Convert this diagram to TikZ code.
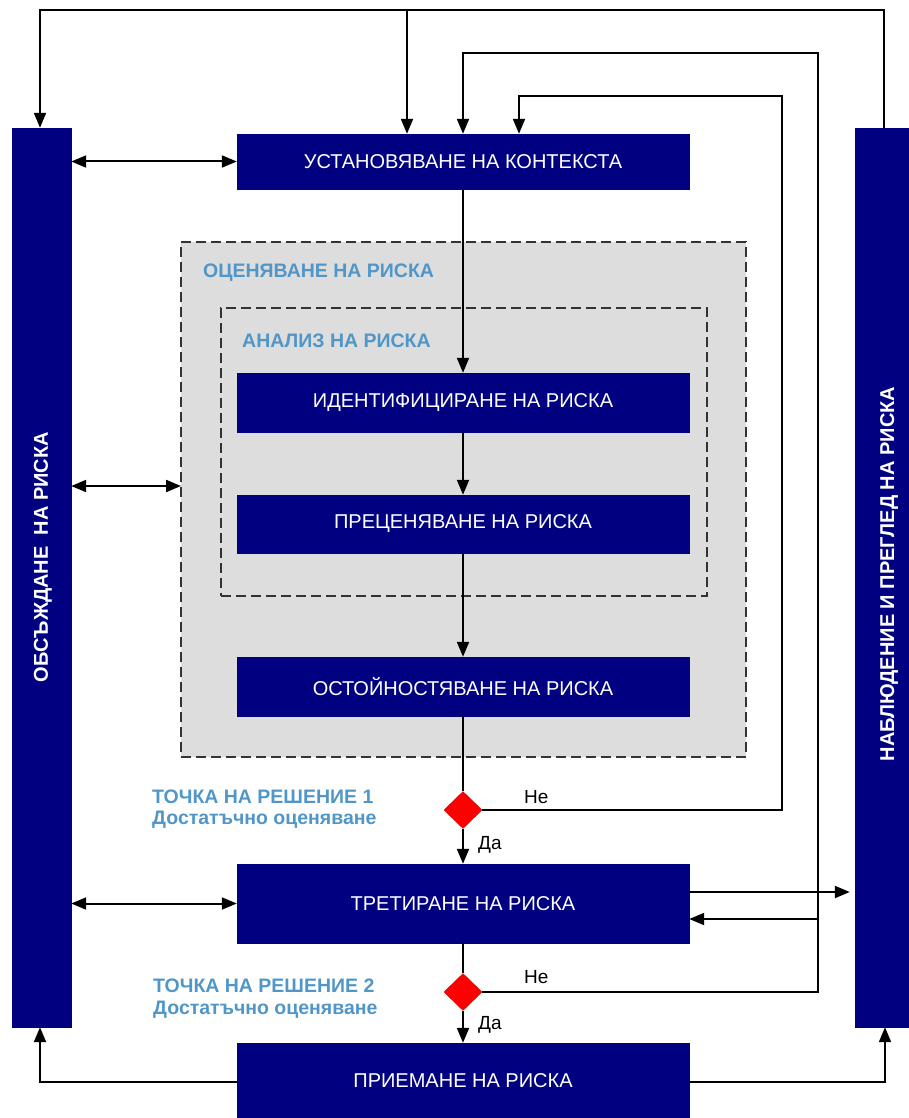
\documentclass[tikz,border=0pt]{standalone}
\usepackage{fontspec}
\setmainfont{Liberation Sans}
\usetikzlibrary{arrows.meta,shapes.geometric}
\definecolor{boxnavy}{RGB}{0,0,128}
\definecolor{labelblue}{RGB}{80,150,200}
\definecolor{panelgray}{RGB}{221,221,221}
\definecolor{diamondred}{RGB}{255,0,0}
\begin{document}
\begin{tikzpicture}[x=1pt,y=-1pt,
  stagebox/.style={draw=boxnavy,fill=boxnavy,text=white,minimum width=452pt,inner sep=0pt,font=\fontsize{20}{22}\selectfont},
  sidebar/.style={draw=boxnavy,fill=boxnavy,inner sep=0pt},
  sidetext/.style={text=white,rotate=90,inner sep=0pt,font=\bfseries\fontsize{20}{22}\selectfont},
  panel/.style={draw=black!80,line width=2.2pt,dash pattern=on 10pt off 5pt},
  link/.style={line width=2pt},
  arr/.style={link,-{Triangle[length=15pt,width=12pt]}},
  dbl/.style={link,{Triangle[length=15pt,width=12pt]}-{Triangle[length=15pt,width=12pt]}},
  decision/.style={diamond,fill=diamondred,draw=diamondred!80!black,line width=0.4pt,inner sep=0pt,minimum width=38pt,minimum height=37pt},
  steplabel/.style={text=labelblue,font=\bfseries\fontsize{19.5}{21}\selectfont,anchor=west,inner sep=0pt},
  branchlabel/.style={font=\fontsize{19}{21}\selectfont,anchor=west,inner sep=0pt}
]
\useasboundingbox (0,0) rectangle (908,1118);

% nested assessment panels
\node[panel,fill=panelgray,minimum width=565pt,minimum height=515pt,inner sep=0pt] (outer) at (463.5,499.5) {};
\node[panel,fill=panelgray,minimum width=486pt,minimum height=288pt,inner sep=0pt] (inner) at (464,452) {};
\node[steplabel] at (203,273) {ОЦЕНЯВАНЕ НА РИСКА};
\node[steplabel] at (242,341) {АНАЛИЗ НА РИСКА};

% side bars
\node[sidebar,minimum width=59pt,minimum height=899pt] (lbar) at (41.5,577.5) {};
\node[sidetext] at (43,557) {ОБСЪЖДАНЕ\ \ НА РИСКА};
\node[sidebar,minimum width=53pt,minimum height=899pt] (rbar) at (881.5,577.5) {};
\node[sidetext] at (889,574) {НАБЛЮДЕНИЕ И ПРЕГЛЕД НА РИСКА};

% process stages
\node[stagebox,minimum height=55pt] (ctx) at (463,161.5) {УСТАНОВЯВАНЕ НА КОНТЕКСТА};
\node[stagebox,minimum height=59pt] (ident) at (463,402.5) {ИДЕНТИФИЦИРАНЕ НА РИСКА};
\node[stagebox,minimum height=58pt] (prec) at (463,524) {ПРЕЦЕНЯВАНЕ НА РИСКА};
\node[stagebox,minimum height=59pt] (ost) at (463,686.5) {ОСТОЙНОСТЯВАНЕ НА РИСКА};
\node[stagebox,minimum height=79pt] (treat) at (463,903.5) {ТРЕТИРАНЕ НА РИСКА};
\node[stagebox,minimum height=75pt] (acc) at (463,1080.5) {ПРИЕМАНЕ НА РИСКА};

% decision points
\node[decision] (d1) at (463,810) {};
\node[decision] (d2) at (463,992) {};
\node[steplabel] at (152,797) {ТОЧКА НА РЕШЕНИЕ 1};
\node[steplabel] at (152,820) {Достатъчно оценяване};
\node[steplabel] at (153,986) {ТОЧКА НА РЕШЕНИЕ 2};
\node[steplabel] at (153,1010) {Достатъчно оценяване};

% routing points
\coordinate (topR) at (884,10);
\coordinate (topL) at (40,10);
\coordinate (topM) at (407,10);
\coordinate (no1a) at (782,810);
\coordinate (no1b) at (782,96);
\coordinate (no1c) at (519,96);
\coordinate (no2a) at (818,992);
\coordinate (no2b) at (818,53);
\coordinate (no2c) at (463,53);
\coordinate (back) at (818,919);
\coordinate (fwd) at (689,892);
\coordinate (mid) at (181,486);
\coordinate (botL) at (40,1082);
\coordinate (botR) at (885,1082);

% feedback loops along the top
\draw[arr] (rbar.north -| topR) -- (topR) -- (topL) -- (topL |- lbar.north);
\draw[arr] (topM) -- (topM |- ctx.north);
\draw[arr] (d1.east) -- (no1a) -- (no1b) -- (no1c) -- (no1c |- ctx.north);
\draw[arr] (d2.east) -- (no2a) -- (no2b) -- (no2c) -- (ctx.north);
\draw[arr] (back) -- (back -| treat.east);
\draw[arr,shorten >=5pt] (fwd) -- (fwd -| rbar.west);

% main flow
\draw[arr] (ctx.south) -- (ident.north);
\draw[arr] (ident.south) -- (prec.north);
\draw[arr] (prec.south) -- (ost.north);
\draw[link] (ost.south) -- (d1.north);
\draw[arr] (d1.south) -- (treat.north);
\draw[link] (treat.south) -- (d2.north);
\draw[arr] (d2.south) -- (acc.north);

% communication links
\draw[dbl] (lbar.east |- ctx.west) -- (ctx.west);
\draw[dbl] (lbar.east |- mid) -- (mid);
\draw[dbl] (lbar.east |- treat.west) -- (treat.west);

% acceptance back to both bars
\draw[arr] (acc.west |- botL) -- (botL) -- (botL |- lbar.south);
\draw[arr] (acc.east |- botR) -- (botR) -- (botR |- rbar.south);

% branch labels
\node[branchlabel] at (524,797) {Не};
\node[branchlabel] at (478,845) {Да};
\node[branchlabel] at (524,977) {Не};
\node[branchlabel] at (478,1025) {Да};
\end{tikzpicture}
\end{document}
